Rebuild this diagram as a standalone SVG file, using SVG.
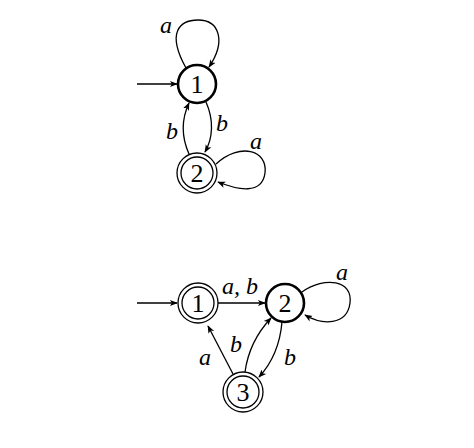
<svg xmlns="http://www.w3.org/2000/svg" width="474" height="448" viewBox="0 0 474 448">
<style>
.st{fill:#fff;stroke:#000;stroke-width:1.3}
.thick{fill:#fff;stroke:#000;stroke-width:2.6}
.num{font-family:'Liberation Serif',serif;font-size:26px;text-anchor:middle}
.lab{font-family:'Liberation Serif',serif;font-style:italic;font-size:24px;text-anchor:middle}
.e{fill:none;stroke:#000;stroke-width:1.3;marker-end:url(#ah)}
</style>
<defs>
<marker id="ah" viewBox="0 0 10 10" refX="9" refY="5" markerWidth="8" markerHeight="8" markerUnits="userSpaceOnUse" orient="auto">
<path d="M0,1 L10,5 L0,9 L2.5,5 Z" fill="#000"/>
</marker>
</defs>
<rect width="474" height="448" fill="#fff"/>
<g id="connectors">
<path class="e" d="M137,84 L177,84"/>
<path class="e" d="M186,68 C166,32 180,20 198,20 C220,20 226,42 209,67"/>
<path class="e" d="M206,102 C214,120 213,138 205,152"/>
<path class="e" d="M189,154 C181,136 182,118 189,103"/>
<path class="e" d="M216,164 C240,142 268,150 265,173 C262,195 238,190 218,182"/>
<path class="e" d="M137,303 L177,303"/>
<path class="e" d="M218,303 L265,303"/>
<path class="e" d="M302,292 C325,276 353,280 350,303 C347,326 322,325 305,315"/>
<path class="e" d="M233,374 L208,326"/>
<path class="e" d="M245,372 C248,350 257,333 271,318"/>
<path class="e" d="M282,322 C280,345 271,364 259,377"/>
</g>
<g id="labels">
<text class="lab" x="166" y="33">a</text>
<text class="lab" x="222" y="131">b</text>
<text class="lab" x="172" y="139">b</text>
<text class="lab" x="256" y="149">a</text>
<text class="lab" x="240" y="294">a, b</text>
<text class="lab" x="342" y="280">a</text>
<text class="lab" x="205" y="365">a</text>
<text class="lab" x="236" y="352">b</text>
<text class="lab" x="290" y="365">b</text>
</g>
<g id="top-1">
<circle class="thick" cx="197" cy="84" r="19"/>
<text class="num" x="197" y="93">1</text>
</g>
<g id="top-2">
<circle class="st" cx="197" cy="173" r="20"/>
<circle class="st" cx="197" cy="173" r="16"/>
<text class="num" x="197" y="182">2</text>
</g>
<g id="bot-1">
<circle class="st" cx="198" cy="303" r="20"/>
<circle class="st" cx="198" cy="303" r="16"/>
<text class="num" x="198" y="312">1</text>
</g>
<g id="bot-2">
<circle class="thick" cx="285" cy="303" r="19"/>
<text class="num" x="285" y="312">2</text>
</g>
<g id="bot-3">
<circle class="st" cx="243" cy="392" r="20"/>
<circle class="st" cx="243" cy="392" r="16"/>
<text class="num" x="243" y="401">3</text>
</g>
</svg>
